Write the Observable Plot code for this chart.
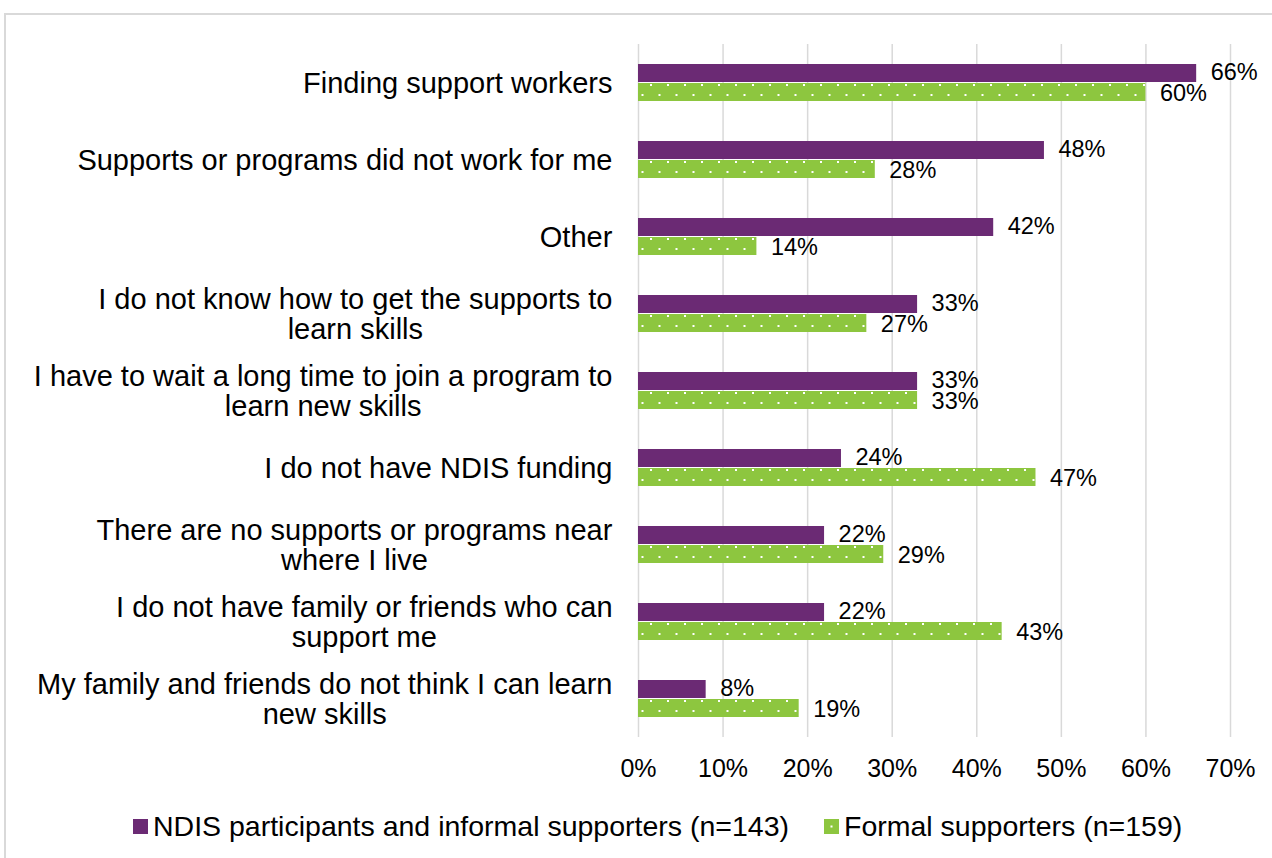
<!DOCTYPE html>
<html>
<head>
<meta charset="utf-8">
<script src="https://cdn.jsdelivr.net/npm/d3@7"></script>
<script src="https://cdn.jsdelivr.net/npm/@observablehq/plot@0.6"></script>
<style>
  html, body { margin: 0; padding: 0; background: #fff; }
  body { width: 1272px; height: 858px; position: relative; overflow: hidden; font-family: "Liberation Sans", Arial, sans-serif; }
  #frame { position: absolute; left: 4px; top: 13px; width: 1300px; height: 900px; border: 2px solid #d9d9d9; box-sizing: border-box; }
  #chart { position: absolute; left: 0; top: 0; }
  #legend { position: absolute; left: 133px; top: 809px; display: flex; align-items: center; font-size: 28.5px; line-height: 34px; color: #000; white-space: nowrap; }
  .item { display: flex; align-items: center; }
  .sw { width: 15px; height: 15px; margin-right: 5px; }
</style>
</head>
<body>
<div id="frame"></div>
<div id="chart"></div>
<div id="legend"></div>
<script>
const categories = [
  "Finding support workers",
  "Supports or programs did not work for me",
  "Other",
  "I do not know how to get the supports to\nlearn skills",
  "I have to wait a long time to join a program to\nlearn new skills",
  "I do not have NDIS funding",
  "There are no supports or programs near\nwhere I live",
  "I do not have family or friends who can\nsupport me",
  "My family and friends do not think I can learn\nnew skills"
];
const participants = [66, 48, 42, 33, 33, 24, 22, 22, 8];
const formal = [60, 28, 14, 27, 33, 47, 29, 43, 19];
const seriesNames = ["NDIS participants and informal supporters (n=143)", "Formal supporters (n=159)"];
const xTicks = [0, 10, 20, 30, 40, 50, 60, 70];

const PURPLE = "#6B2A74";
const GREEN = "#8DC63F";

const rows = categories.flatMap((c, i) => [
  {category: c, series: seriesNames[0], value: participants[i]},
  {category: c, series: seriesNames[1], value: formal[i]}
]);
const rowsP = rows.filter(d => d.series === seriesNames[0]);
const rowsF = rows.filter(d => d.series === seriesNames[1]);

const svg = Plot.plot({
  width: 1272,
  height: 800,
  marginLeft: 638,
  marginRight: 42,
  marginTop: 43,
  marginBottom: 62,
  style: {fontFamily: '"Liberation Sans", Arial, sans-serif', color: "#000", background: "transparent", overflow: "visible"},
  x: {domain: [0, 70], label: null},
  fy: {domain: categories, padding: 0, label: null},
  y: {domain: seriesNames, paddingInner: 0.03, paddingOuter: 0.97, axis: null},
  marks: [
    Plot.gridX(xTicks, {stroke: "#d9d9d9", strokeWidth: 1.5, strokeOpacity: 1}),
    Plot.barX(rowsP, {fy: "category", y: "series", x: "value", fill: PURPLE}),
    Plot.barX(rowsF, {fy: "category", y: "series", x: "value", fill: "url(#dots)"}),
    Plot.text(rowsP, {fy: "category", y: "series", x: "value", text: d => d.value + "%", textAnchor: "start", dx: 14, dy: -1.5, fontSize: 23.5, fill: "#000"}),
    Plot.text(rowsF, {fy: "category", y: "series", x: "value", text: d => d.value + "%", textAnchor: "start", dx: 14, dy: 1, fontSize: 23.5, fill: "#000"}),
    Plot.axisX(xTicks, {tickSize: 0, tickPadding: 22, fontSize: 25, tickFormat: d => d + "%", label: null}),
    Plot.axisFy({anchor: "left", tickSize: 0, tickPadding: 26, fontSize: 29, lineHeight: 1.04, label: null})
  ]
});

// dotted pattern for the green series
const ns = "http://www.w3.org/2000/svg";
const defs = document.createElementNS(ns, "defs");
const pat = document.createElementNS(ns, "pattern");
pat.setAttribute("id", "dots");
pat.setAttribute("patternUnits", "userSpaceOnUse");
pat.setAttribute("width", "17");
pat.setAttribute("height", "20");
const bg = document.createElementNS(ns, "rect");
bg.setAttribute("width", "17"); bg.setAttribute("height", "20"); bg.setAttribute("fill", GREEN);
pat.appendChild(bg);
[[4, 3], [12.5, 13]].forEach(([x, y]) => {
  const r = document.createElementNS(ns, "rect");
  r.setAttribute("x", x); r.setAttribute("y", y); r.setAttribute("width", "2"); r.setAttribute("height", "2"); r.setAttribute("fill", "#fff");
  pat.appendChild(r);
});
defs.appendChild(pat);
svg.insertBefore(defs, svg.firstChild);

document.getElementById("chart").appendChild(svg);

// center each multi-line category label within its own block (block right-aligned)
svg.querySelectorAll("g[aria-label='fy-axis tick label'] text").forEach(t => {
  const bb = t.getBBox();
  const tr = t.getAttribute("transform") || "";
  t.setAttribute("transform", tr + ` translate(${-bb.width / 2},0)`);
  t.setAttribute("text-anchor", "middle");
});

// legend
const legend = document.getElementById("legend");
seriesNames.forEach((name, i) => {
  const item = document.createElement("div");
  item.className = "item";
  if (i > 0) item.style.marginLeft = "35px";
  const sw = i === 0
    ? `<svg class="sw" viewBox="0 0 15 15"><rect width="15" height="15" fill="${PURPLE}"/></svg>`
    : `<svg class="sw" viewBox="0 0 15 15"><rect width="15" height="15" fill="${GREEN}"/><rect x="6.5" y="6.5" width="2" height="2" fill="#fff"/></svg>`;
  item.innerHTML = sw + `<span>${name}</span>`;
  legend.appendChild(item);
});
</script>
</body>
</html>
